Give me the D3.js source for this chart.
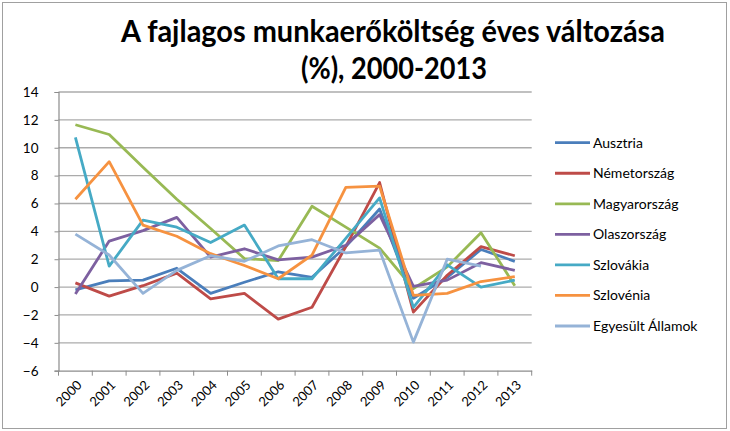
<!DOCTYPE html>
<html>
<head>
<meta charset="utf-8">
<script src="https://cdn.jsdelivr.net/npm/d3@7"></script>
<style>
    body { margin: 0; background: #fff; }
    text { font-family: Lato, "Open Sans", sans-serif; fill: #000; }
</style>
</head>
<body>
<div id="chart"></div>
<script>
const years = ["2000", "2001", "2002", "2003", "2004", "2005", "2006", "2007", "2008", "2009", "2010", "2011", "2012", "2013"];
const yTicks = [-6, -4, -2, 0, 2, 4, 6, 8, 10, 12, 14];

const ausztria = [-0.2, 0.45, 0.5, 1.35, -0.45, 0.35, 1.1, 0.7, 2.9, 5.6, -0.8, 0.7, 2.7, 1.85];
const nemetorszag = [0.3, -0.65, 0.1, 1.0, -0.85, -0.45, -2.3, -1.45, 2.9, 7.5, -1.8, 0.85, 2.9, 2.25];
const magyarorszag = [11.65, 10.95, 8.6, 6.3, 4.2, 2.05, 1.9, 5.8, 4.3, 2.8, -0.1, 1.45, 3.9, 0.1];
const olaszorszag = [-0.5, 3.3, 4.05, 5.0, 2.15, 2.75, 1.95, 2.15, 3.0, 5.2, 0.05, 0.5, 1.75, 1.2];
const szlovakia = [10.75, 1.5, 4.8, 4.3, 3.2, 4.45, 0.6, 0.6, 3.5, 6.4, -1.45, 1.6, 0.0, 0.5];
const szlovenia = [6.3, 9.0, 4.45, 3.65, 2.4, 1.55, 0.6, 2.3, 7.15, 7.25, -0.6, -0.45, 0.4, 0.75];
const egyesultAllamok = [3.8, 2.3, -0.45, 1.2, 2.25, 1.85, 2.95, 3.4, 2.45, 2.65, -3.95, 2.0, 1.5, null];

const seriesNames = ["Ausztria", "Németország", "Magyarország", "Olaszország", "Szlovákia", "Szlovénia", "Egyesült Államok"];
const seriesValues = [ausztria, nemetorszag, magyarorszag, olaszorszag, szlovakia, szlovenia, egyesultAllamok];
const colors = ["#4a7ebb", "#be4b48", "#98b954", "#7d60a0", "#46aac5", "#f69240", "#95b3d7"];

const w = 730;
const h = 431;

const svg = d3.select("#chart")
    .append("svg")
    .attr("width", w)
    .attr("height", h);

// outer chart border
svg.append("rect")
    .attr("x", 2.5)
    .attr("y", 2.5)
    .attr("width", 724)
    .attr("height", 426)
    .attr("fill", "#fff")
    .attr("stroke", "#a0a0a0")
    .attr("stroke-width", 1);

// title
svg.append("text")
    .attr("x", 393)
    .attr("y", 42)
    .attr("text-anchor", "middle")
    .attr("font-size", 30)
    .attr("font-weight", "bold")
    .attr("textLength", 544)
    .attr("lengthAdjust", "spacingAndGlyphs")
    .text("A fajlagos munkaerőköltség éves változása");

svg.append("text")
    .attr("x", 394)
    .attr("y", 79)
    .attr("text-anchor", "middle")
    .attr("font-size", 30)
    .attr("font-weight", "bold")
    .attr("textLength", 186)
    .attr("lengthAdjust", "spacingAndGlyphs")
    .text("(%), 2000-2013");

const xScale = d3.scaleBand()
    .domain(years)
    .range([58.5, 531.7]);

const yScale = d3.scaleLinear()
    .domain([-6, 14])
    .range([370.7, 92]);

// gridlines
svg.append("g")
    .selectAll("line")
    .data(yTicks.filter(d => d > -6))
    .enter()
    .append("line")
    .attr("x1", 58.5)
    .attr("x2", 531.7)
    .attr("y1", d => yScale(d))
    .attr("y2", d => yScale(d))
    .attr("stroke", "#ababab")
    .attr("stroke-width", 1.3);

// y axis
const yAxis = d3.axisLeft(yScale)
    .tickValues(yTicks)
    .tickSize(4)
    .tickPadding(16)
    .tickFormat(d3.format("d"));

const gy = svg.append("g")
    .attr("transform", "translate(58.5,0)")
    .call(yAxis);
gy.select(".domain").attr("stroke", "#8c8c8c").attr("stroke-width", 1.2);
gy.selectAll(".tick line").attr("stroke", "#8c8c8c");
gy.selectAll(".tick text")
    .attr("font-size", 13.5)
    .style("font-family", "Lato, sans-serif")
    .attr("fill", "#000");

// x axis
const xAxis = d3.axisBottom(xScale)
    .tickSize(0)
    .tickSizeOuter(0);

const gx = svg.append("g")
    .attr("transform", "translate(0,370.7)")
    .call(xAxis);
gx.select(".domain").attr("stroke", "#8c8c8c").attr("stroke-width", 1.2);
gx.selectAll(".tick text")
    .attr("font-size", 13)
    .style("font-family", "Lato, sans-serif")
    .attr("fill", "#000")
    .attr("text-anchor", "end")
    .attr("y", 0)
    .attr("dy", "0.35em")
    .attr("transform", "translate(4,12) rotate(-45)");

// category boundary ticks
gx.append("g")
    .selectAll("line")
    .data(years.concat(["end"]))
    .enter()
    .append("line")
    .attr("x1", (d, i) => 58.5 + i * xScale.step())
    .attr("x2", (d, i) => 58.5 + i * xScale.step())
    .attr("y1", 0)
    .attr("y2", 5)
    .attr("stroke", "#8c8c8c");

// lines
const line = d3.line()
    .defined(d => d.v !== null)
    .x(d => xScale(d.year) + xScale.bandwidth() / 2)
    .y(d => yScale(d.v));

svg.append("g")
    .selectAll("path")
    .data(seriesValues)
    .enter()
    .append("path")
    .attr("d", vals => line(vals.map((v, i) => ({ year: years[i], v: v }))))
    .attr("fill", "none")
    .attr("stroke", (d, i) => colors[i])
    .attr("stroke-width", 2.8)
    .attr("stroke-linejoin", "round");

// legend
const legend = svg.append("g")
    .attr("id", "legend");

const items = legend.selectAll("g")
    .data(seriesNames)
    .enter()
    .append("g")
    .attr("transform", (d, i) => "translate(0," + (142.7 + i * 30.55) + ")");

items.append("line")
    .attr("x1", 555)
    .attr("x2", 590)
    .attr("stroke", (d, i) => colors[i])
    .attr("stroke-width", 2.8);

items.append("text")
    .attr("x", 593)
    .attr("dy", "0.35em")
    .attr("font-size", 14)
    .text(d => d);
</script>
</body>
</html>
